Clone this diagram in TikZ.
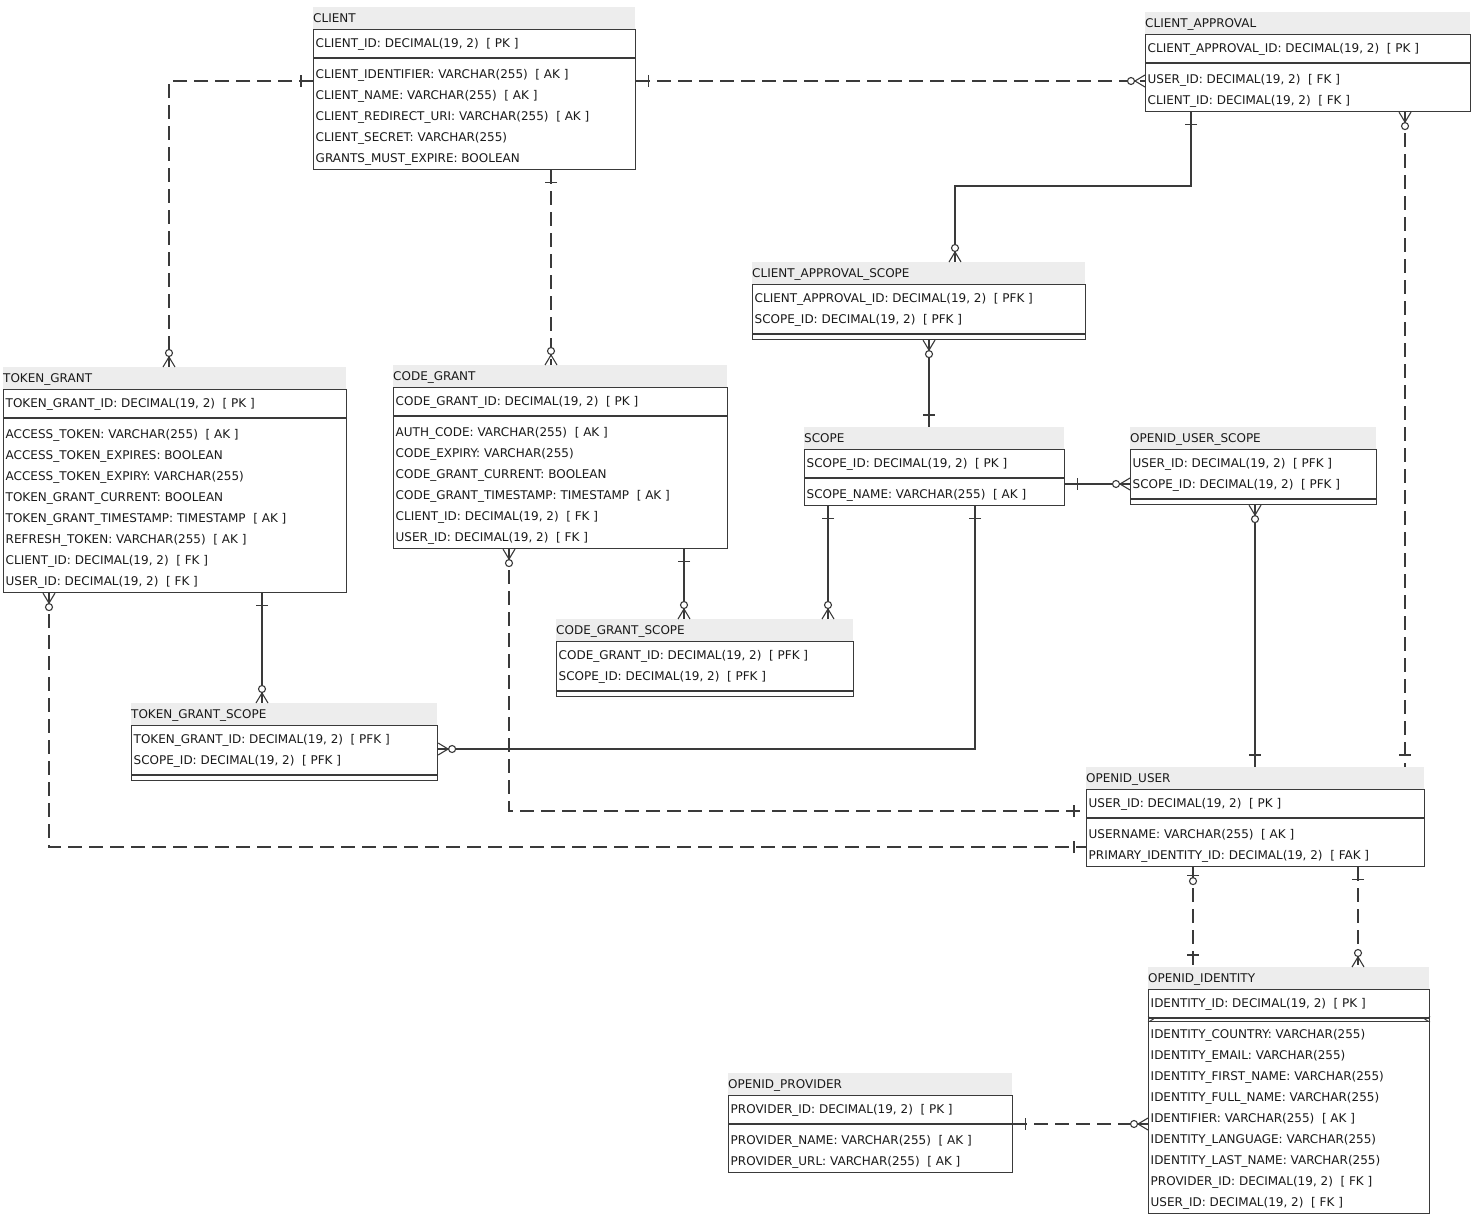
\documentclass[tikz,border=0pt]{standalone}
\usepackage{fontspec}
\setmainfont{DejaVu Sans}
\definecolor{ln}{HTML}{3A3A3A}
\definecolor{hd}{HTML}{EDEDED}
\definecolor{tx}{HTML}{1A1A1A}
\tikzset{
  box/.style={draw=ln, line width=1.1pt, rectangle, inner sep=0pt, anchor=north west},
  hdr/.style={fill=hd, rectangle, inner sep=0pt, anchor=north west},
  txt/.style={anchor=base west, inner sep=0pt, text=tx, font=\fontsize{12}{14}\selectfont},
  conn/.style={draw=ln, line width=1.1pt},
  dconn/.style={conn, dash pattern=on 14pt off 7pt},
  mk/.style={draw=ln, line width=1.1pt, solid},
}
% #1 name #2 left #3 top #4 width #5 title #6 npk #7 pk list #8 nattr #9 attr list
\newcommand\erdtab[9]{%
  \pgfmathsetmacro\erdbt{#3+22}%
  \pgfmathsetmacro\erdsep{\erdbt+8+21*#6}%
  \pgfmathsetmacro\erdbb{\erdsep+5+(#8>0)*(1+21*#8)}%
  \pgfmathsetmacro\erdhh{\erdbb-\erdbt}%
  \node[hdr, minimum width=#4pt, minimum height=22pt] (#1h) at (#2,#3) {};
  \node[txt] (#1t) at (#2,#3+15.4) {#5};
  \node[box, minimum width=#4pt, minimum height=\erdhh pt] (#1) at (#2,\erdbt) {};
  \draw[mk] (#2,\erdsep) -- (#2+#4,\erdsep);
  \foreach \r [count=\i] in {#7} {\node[txt] (#1p\i) at (#2+2.5,\erdbt+14+21*\i-21+4.4) {\r};}
  \ifnum#8>0
  \foreach \r [count=\i] in {#9} {\node[txt] (#1a\i) at (#2+2.5,\erdsep+16+21*\i-21+4.4) {\r};}
  \fi
}
\newcommand\mkone[2]{\begin{scope}[shift={#1},rotate=#2]\draw[mk] (12,-6) -- (12,6);\end{scope}}
\newcommand\mkzm[2]{\begin{scope}[shift={#1},rotate=#2]\draw[mk] (0,-6) -- (10,0) -- (0,6);\draw[mk,fill=white] (14,0) circle[radius=3.5];\end{scope}}
\newcommand\mkzo[2]{\begin{scope}[shift={#1},rotate=#2]\draw[mk] (8,-6) -- (8,6);\draw[mk,fill=white] (14,0) circle[radius=3.5];\end{scope}}
\begin{document}
\begin{tikzpicture}[x=1pt,y=-1pt]
\fill[white] (0,0) rectangle (1475,1215);
\useasboundingbox (0,0) rectangle (1475,1215);

\erdtab{client}{313}{7}{322}{CLIENT}{1}{{CLIENT\_ID: DECIMAL(19, 2)\ \ [ PK ]}}{5}{{CLIENT\_IDENTIFIER: VARCHAR(255)\ \ [ AK ]},{CLIENT\_NAME: VARCHAR(255)\ \ [ AK ]},{CLIENT\_REDIRECT\_URI: VARCHAR(255)\ \ [ AK ]},{CLIENT\_SECRET: VARCHAR(255)},{GRANTS\_MUST\_EXPIRE: BOOLEAN}}
\erdtab{clientapproval}{1145}{12}{325}{CLIENT\_APPROVAL}{1}{{CLIENT\_APPROVAL\_ID: DECIMAL(19, 2)\ \ [ PK ]}}{2}{{USER\_ID: DECIMAL(19, 2)\ \ [ FK ]},{CLIENT\_ID: DECIMAL(19, 2)\ \ [ FK ]}}
\erdtab{tokengrant}{3}{367}{343}{TOKEN\_GRANT}{1}{{TOKEN\_GRANT\_ID: DECIMAL(19, 2)\ \ [ PK ]}}{8}{{ACCESS\_TOKEN: VARCHAR(255)\ \ [ AK ]},{ACCESS\_TOKEN\_EXPIRES: BOOLEAN},{ACCESS\_TOKEN\_EXPIRY: VARCHAR(255)},{TOKEN\_GRANT\_CURRENT: BOOLEAN},{TOKEN\_GRANT\_TIMESTAMP: TIMESTAMP\ \ [ AK ]},{REFRESH\_TOKEN: VARCHAR(255)\ \ [ AK ]},{CLIENT\_ID: DECIMAL(19, 2)\ \ [ FK ]},{USER\_ID: DECIMAL(19, 2)\ \ [ FK ]}}
\erdtab{codegrant}{393}{365}{334}{CODE\_GRANT}{1}{{CODE\_GRANT\_ID: DECIMAL(19, 2)\ \ [ PK ]}}{6}{{AUTH\_CODE: VARCHAR(255)\ \ [ AK ]},{CODE\_EXPIRY: VARCHAR(255)},{CODE\_GRANT\_CURRENT: BOOLEAN},{CODE\_GRANT\_TIMESTAMP: TIMESTAMP\ \ [ AK ]},{CLIENT\_ID: DECIMAL(19, 2)\ \ [ FK ]},{USER\_ID: DECIMAL(19, 2)\ \ [ FK ]}}
\erdtab{cas}{752}{262}{333}{CLIENT\_APPROVAL\_SCOPE}{2}{{CLIENT\_APPROVAL\_ID: DECIMAL(19, 2)\ \ [ PFK ]},{SCOPE\_ID: DECIMAL(19, 2)\ \ [ PFK ]}}{0}{}
\erdtab{scope}{804}{427}{260}{SCOPE}{1}{{SCOPE\_ID: DECIMAL(19, 2)\ \ [ PK ]}}{1}{{SCOPE\_NAME: VARCHAR(255)\ \ [ AK ]}}
\erdtab{ous}{1130}{427}{246}{OPENID\_USER\_SCOPE}{2}{{USER\_ID: DECIMAL(19, 2)\ \ [ PFK ]},{SCOPE\_ID: DECIMAL(19, 2)\ \ [ PFK ]}}{0}{}
\erdtab{cgs}{556}{619}{297}{CODE\_GRANT\_SCOPE}{2}{{CODE\_GRANT\_ID: DECIMAL(19, 2)\ \ [ PFK ]},{SCOPE\_ID: DECIMAL(19, 2)\ \ [ PFK ]}}{0}{}
\erdtab{tgs}{131}{703}{306}{TOKEN\_GRANT\_SCOPE}{2}{{TOKEN\_GRANT\_ID: DECIMAL(19, 2)\ \ [ PFK ]},{SCOPE\_ID: DECIMAL(19, 2)\ \ [ PFK ]}}{0}{}
\erdtab{openiduser}{1086}{767}{338}{OPENID\_USER}{1}{{USER\_ID: DECIMAL(19, 2)\ \ [ PK ]}}{2}{{USERNAME: VARCHAR(255)\ \ [ AK ]},{PRIMARY\_IDENTITY\_ID: DECIMAL(19, 2)\ \ [ FAK ]}}
\erdtab{oi}{1148}{967}{281}{OPENID\_IDENTITY}{1}{{IDENTITY\_ID: DECIMAL(19, 2)\ \ [ PK ]}}{9}{{IDENTITY\_COUNTRY: VARCHAR(255)},{IDENTITY\_EMAIL: VARCHAR(255)},{IDENTITY\_FIRST\_NAME: VARCHAR(255)},{IDENTITY\_FULL\_NAME: VARCHAR(255)},{IDENTIFIER: VARCHAR(255)\ \ [ AK ]},{IDENTITY\_LANGUAGE: VARCHAR(255)},{IDENTITY\_LAST\_NAME: VARCHAR(255)},{PROVIDER\_ID: DECIMAL(19, 2)\ \ [ FK ]},{USER\_ID: DECIMAL(19, 2)\ \ [ FK ]}}
\erdtab{op}{728}{1073}{284}{OPENID\_PROVIDER}{1}{{PROVIDER\_ID: DECIMAL(19, 2)\ \ [ PK ]}}{2}{{PROVIDER\_NAME: VARCHAR(255)\ \ [ AK ]},{PROVIDER\_URL: VARCHAR(255)\ \ [ AK ]}}
% double separator in OPENID_IDENTITY
\draw[mk] (oi.west |- 0,1021.5) -- (oi.east |- 0,1021.5);
\draw[draw=ln, line width=0.8pt] (oi.west |- 0,1016.5) -- ([xshift=5pt]oi.west |- 0,1019.5) -- (oi.west |- 0,1022);
\draw[draw=ln, line width=0.8pt] (oi.east |- 0,1016.5) -- ([xshift=-5pt]oi.east |- 0,1019.5) -- (oi.east |- 0,1022);

% connectors
\draw[dconn] (client.west |- 0,81) -| (tokengranth.north -| 169,0);
\draw[dconn] (client.east |- 0,81) -- (clientapproval.west |- 0,81);
\draw[dconn] (client.south -| 551,0) -- (codegranth.north -| 551,0);
\draw[conn] (clientapproval.south -| 1191,0) |- (955,186) -- (cash.north -| 955,0);
\draw[dconn] (clientapproval.south -| 1405,0) -- (openiduserh.north -| 1405,0);
\draw[conn] (cas.south -| 929,0) -- (scopeh.north -| 929,0);
\draw[conn] (scope.east |- 0,484) -- (ous.west |- 0,484);
\draw[conn] (ous.south -| 1255,0) -- (openiduserh.north -| 1255,0);
\draw[conn] (scope.south -| 828,0) -- (cgsh.north -| 828,0);
\draw[conn] (scope.south -| 975,0) |- (tgs.east |- 0,749);
\draw[conn] (codegrant.south -| 684,0) -- (cgsh.north -| 684,0);
\draw[conn] (tokengrant.south -| 262,0) -- (tgsh.north -| 262,0);
\draw[dconn] (codegrant.south -| 509,0) |- (openiduser.west |- 0,811);
\draw[dconn] (tokengrant.south -| 49,0) |- (openiduser.west |- 0,847);
\draw[dconn] (openiduser.south -| 1193,0) -- (oih.north -| 1193,0);
\draw[dconn] (openiduser.south -| 1358,0) -- (oih.north -| 1358,0);
\draw[dconn] (op.east |- 0,1124) -- (oi.west |- 0,1124);

% end markers
\mkone{(client.west |- 0,81)}{180}
\mkzm{(tokengranth.north -| 169,0)}{90}
\mkone{(client.east |- 0,81)}{0}
\mkzm{(clientapproval.west |- 0,81)}{180}
\mkone{(client.south -| 551,0)}{270}
\mkzm{(codegranth.north -| 551,0)}{90}
\mkone{(clientapproval.south -| 1191,0)}{270}
\mkzm{(cash.north -| 955,0)}{90}
\mkzm{(clientapproval.south -| 1405,0)}{270}
\mkone{(openiduserh.north -| 1405,0)}{90}
\mkzm{(cas.south -| 929,0)}{270}
\mkone{(scopeh.north -| 929,0)}{90}
\mkone{(scope.east |- 0,484)}{0}
\mkzm{(ous.west |- 0,484)}{180}
\mkzm{(ous.south -| 1255,0)}{270}
\mkone{(openiduserh.north -| 1255,0)}{90}
\mkone{(scope.south -| 828,0)}{270}
\mkzm{(cgsh.north -| 828,0)}{90}
\mkone{(scope.south -| 975,0)}{270}
\mkzm{(tgs.east |- 0,749)}{0}
\mkone{(codegrant.south -| 684,0)}{270}
\mkzm{(cgsh.north -| 684,0)}{90}
\mkone{(tokengrant.south -| 262,0)}{270}
\mkzm{(tgsh.north -| 262,0)}{90}
\mkzm{(codegrant.south -| 509,0)}{270}
\mkone{(openiduser.west |- 0,811)}{180}
\mkzm{(tokengrant.south -| 49,0)}{270}
\mkone{(openiduser.west |- 0,847)}{180}
\mkzo{(openiduser.south -| 1193,0)}{270}
\mkone{(oih.north -| 1193,0)}{90}
\mkone{(openiduser.south -| 1358,0)}{270}
\mkzm{(oih.north -| 1358,0)}{90}
\mkone{(op.east |- 0,1124)}{0}
\mkzm{(oi.west |- 0,1124)}{180}
\end{tikzpicture}
\end{document}
